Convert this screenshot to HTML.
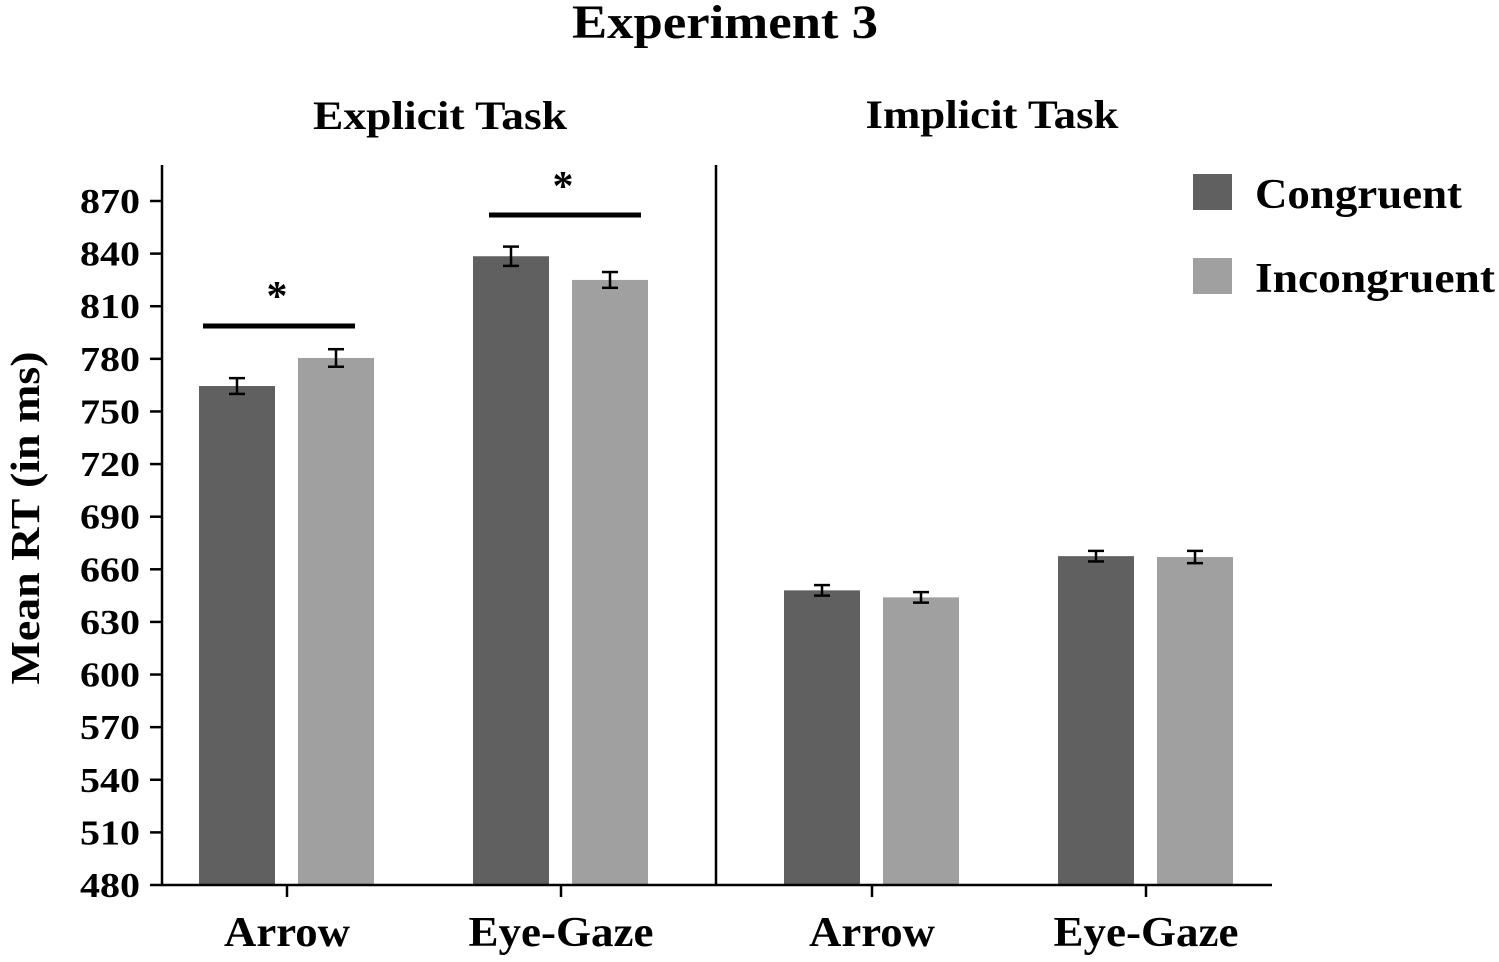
<!DOCTYPE html>
<html><head><meta charset="utf-8"><style>
html,body{margin:0;padding:0;background:#fff;}
svg{display:block;font-family:"Liberation Serif",serif;font-weight:bold;}
</style></head><body>
<svg id="chart" width="1499" height="962" viewBox="0 0 1499 962">
<text x="725" y="38" font-size="48" text-anchor="middle" textLength="306" lengthAdjust="spacingAndGlyphs">Experiment 3</text>
<text x="440" y="129" font-size="40" text-anchor="middle" textLength="254" lengthAdjust="spacingAndGlyphs">Explicit Task</text>
<text x="992" y="128" font-size="40" text-anchor="middle" textLength="253" lengthAdjust="spacingAndGlyphs">Implicit Task</text>
<text transform="translate(39,518) rotate(-90)" font-size="41" text-anchor="middle" textLength="333" lengthAdjust="spacingAndGlyphs">Mean RT (in ms)</text>
<g id="yticks"></g>
<g id="bars"></g>
<line x1="162" y1="165" x2="162" y2="886" stroke="#000" stroke-width="2.5"/>
<line x1="161" y1="885" x2="1272" y2="885" stroke="#000" stroke-width="2.5"/>
<line x1="716" y1="165" x2="716" y2="885" stroke="#000" stroke-width="2.5"/>
<g><line x1="203" y1="326" x2="355" y2="326" stroke="#000" stroke-width="5"/><text x="277" y="310" font-size="42" text-anchor="middle">*</text></g>
<g><line x1="489" y1="215" x2="641" y2="215" stroke="#000" stroke-width="5"/><text x="563" y="200" font-size="42" text-anchor="middle">*</text></g>
<g>
<rect x="1193" y="174" width="39" height="36" fill="#606060"/>
<text x="1255" y="208" font-size="42" textLength="207" lengthAdjust="spacingAndGlyphs">Congruent</text>
<rect x="1193" y="258" width="39" height="36" fill="#a0a0a0"/>
<text x="1255" y="292" font-size="42" textLength="240" lengthAdjust="spacingAndGlyphs">Incongruent</text>
</g>
</svg>
<script>
const categories=["Arrow","Eye-Gaze","Arrow","Eye-Gaze"];
const congruent=[764.5,838.5,648,667.5];
const incongruent=[780.5,825,644,667];
const errCongruent=[4.5,5.5,3,3];
const errIncongruent=[5,4.5,3,3.5];
const yTicks=[480,510,540,570,600,630,660,690,720,750,780,810,840,870];
const NS="http://www.w3.org/2000/svg";
const y0=885,ppu=684/390,vmin=480;
function y(v){return y0-(v-vmin)*ppu;}
const groupCenters=[287,561,872,1146];
function mk(tag,attrs,parent){const e=document.createElementNS(NS,tag);for(const k in attrs)e.setAttribute(k,attrs[k]);parent.appendChild(e);return e;}
const yt=document.getElementById('yticks');
yTicks.forEach(t=>{
 const l=mk('line',{x1:150,x2:162,y1:y(t),y2:y(t),stroke:'#000','stroke-width':2.5},yt);
 
 
 const tx=mk('text',{x:140,y:y(t)+12,'font-size':35,'text-anchor':'end',textLength:60,lengthAdjust:'spacingAndGlyphs'},yt);
 tx.textContent=t;
 
 
});
const bg=document.getElementById('bars');
categories.forEach((c,i)=>{
 const cx=groupCenters[i];
 [[congruent,errCongruent,'#606060',-88,'congruent'],[incongruent,errIncongruent,'#a0a0a0',11,'incongruent']].forEach(([vals,errs,col,off,nm])=>{
  const v=vals[i];
  const r=mk('rect',{x:cx+off,y:y(v),width:76,height:y0-y(v),fill:col},bg);
  
  
  const bx=cx+off+38,e=errs[i];
  const g=mk('g',{stroke:'#000','stroke-width':2.5},bg);
  
  
  mk('line',{x1:bx,x2:bx,y1:y(v+e),y2:y(v-e)},g);
  mk('line',{x1:bx-8,x2:bx+8,y1:y(v+e),y2:y(v+e)},g);
  mk('line',{x1:bx-8,x2:bx+8,y1:y(v-e),y2:y(v-e)},g);
 });
 const tk=mk('line',{x1:cx,x2:cx,y1:885,y2:897,stroke:'#000','stroke-width':2.5},bg);
 
 
 const lb=mk('text',{x:cx,y:946,'font-size':42,'text-anchor':'middle',textLength:(c==='Arrow'?126:185),lengthAdjust:'spacingAndGlyphs'},bg);
 lb.textContent=c;
 
 
});
</script>
</body></html>
